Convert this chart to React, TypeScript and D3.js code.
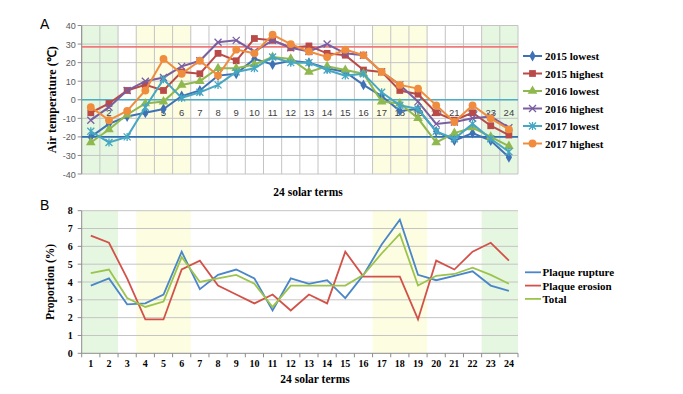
import * as d3 from 'd3';

// 24 solar terms
const TERMS = d3.range(1, 25);

// Panel A: air temperature (℃)
const LOW_2015 = [-20, -13, -9, -7, -5, 2, 5, 13, 14, 22, 19, 21, 20, 17, 15, 8, 2, -6, -5, -17, -22, -18, -22, -31];
const HIGH_2015 = [-7, -2, 5, 8, 5, 15, 14, 25, 21, 33, 32, 28, 29, 25, 24, 16, 15, 5, 3, -7, -11, -7, -14, -19];
const LOW_2016 = [-23, -16, -8, -2, -1, 8, 10, 17, 17, 19, 23, 22, 15, 18, 16, 14, -1, -2, -10, -23, -18, -15, -20, -25];
const HIGH_2016 = [-11, -4, 5, 10, 12, 18, 21, 31, 32, 26, 32, 28, 26, 30, 25, 24, 15, 8, -1, -13, -12, -10, -9, -15];
const LOW_2017 = [-17, -23, -20, -4, 11, 1, 4, 8, 15, 17, 23, 20, 20, 16, 13, 14, 4, -3, -5, -17, -21, -13, -21, -28];
const HIGH_2017 = [-4, -11, -6, 5, 22, 14, 21, 13, 27, 25, 35, 30, 26, 23, 27, 24, 15, 8, 6, -3, -12, -3, -10, -16];
const TEMP_TICKS = [40, 30, 20, 10, 0, -10, -20, -30, -40];
const REF_LINES = [
  { v: 28.5, color: '#f07a7a' },
  { v: 0, color: '#4bacc6' },
  { v: -20, color: '#2f6fb0' },
];

// Panel B: proportion (%)
const RUPTURE = [3.8, 4.2, 2.75, 2.8, 3.3, 5.7, 3.6, 4.4, 4.7, 4.2, 2.4, 4.2, 3.9, 4.1, 3.1, 4.4, 6.1, 7.5, 4.4, 4.1, 4.35, 4.6, 3.8, 3.5];
const EROSION = [6.6, 6.2, 4.2, 1.9, 1.9, 4.7, 5.2, 3.8, 3.3, 2.8, 3.3, 2.4, 3.3, 2.8, 5.7, 4.3, 4.3, 4.3, 1.9, 5.2, 4.7, 5.7, 6.2, 5.2];
const TOTAL = [4.5, 4.7, 3.1, 2.6, 2.9, 5.4, 4.0, 4.2, 4.4, 3.9, 2.6, 3.8, 3.8, 3.8, 3.8, 4.4, 5.6, 6.7, 3.8, 4.35, 4.45, 4.8, 4.4, 3.9];
const PROP_TICKS = d3.range(0, 9);

// seasonal shading: [first term, last term, colour]
const BANDS: [number, number, string][] = [
  [1, 2, '#e5f7e0'],
  [4, 6, '#fdfde2'],
  [17, 19, '#fdfde2'],
  [23, 24, '#e5f7e0'],
];

const seriesA = [
  { name: '2015 lowest', values: LOW_2015, color: '#3f72b5', marker: 'diamond' },
  { name: '2015 highest', values: HIGH_2015, color: '#b94a48', marker: 'square' },
  { name: '2016 lowest', values: LOW_2016, color: '#8fb84e', marker: 'triangle' },
  { name: '2016 highest', values: HIGH_2016, color: '#7a5ea0', marker: 'x' },
  { name: '2017 lowest', values: LOW_2017, color: '#46a7c2', marker: 'star' },
  { name: '2017 highest', values: HIGH_2017, color: '#f08c3e', marker: 'circle' },
];

const seriesB = [
  { name: 'Plaque rupture', values: RUPTURE, color: '#4a86c8' },
  { name: 'Plaque erosion', values: EROSION, color: '#d2524a' },
  { name: 'Total', values: TOTAL, color: '#9cc44c' },
];

const SERIF = '"Liberation Serif", "Times New Roman", serif';
const SANS = '"Liberation Sans", Arial, sans-serif';

const L = 81.7, R = 518;
const x = d3.scaleBand<number>().domain(TERMS).range([L, R]);
const cx = (t: number) => (x(t) ?? 0) + x.bandwidth() / 2;

const yA = d3.scaleLinear().domain([-40, 40]).range([174, 25.5]);
const yB = d3.scaleLinear().domain([0, 8]).range([353.3, 210.7]);

function Marker({ kind, x0, y0, color }: { kind: string; x0: number; y0: number; color: string }) {
  const t = `translate(${x0},${y0})`;
  if (kind === 'x' || kind === 'star') {
    const r = 3.5;
    let d = `M${-r},${-r}L${r},${r}M${-r},${r}L${r},${-r}`;
    if (kind === 'star') d += `M0,${-r - 0.5}L0,${r + 0.5}`;
    return <path d={d} transform={t} stroke={color} strokeWidth={1.3} fill="none" />;
  }
  const type = kind === 'diamond' ? d3.symbolDiamond : kind === 'square' ? d3.symbolSquare : kind === 'triangle' ? d3.symbolTriangle : d3.symbolCircle;
  const size = kind === 'diamond' ? 34 : kind === 'square' ? 46 : kind === 'triangle' ? 40 : 48;
  return <path d={d3.symbol().type(type).size(size)() ?? ''} transform={t} fill={color} />;
}

function Bands({ y0, y1 }: { y0: number; y1: number }) {
  return (
    <g>
      {BANDS.map(([a, b, c]) => (
        <rect key={a} x={x(a)} y={y0} width={(x(b) ?? 0) + x.bandwidth() - (x(a) ?? 0)} height={y1 - y0} fill={c} />
      ))}
    </g>
  );
}

export default function App() {
  const lineA = (vals: number[]) => d3.line<number>().x((_, i) => cx(TERMS[i])).y((v) => yA(v))(vals) ?? '';
  const lineB = (vals: number[]) => d3.line<number>().x((_, i) => cx(TERMS[i])).y((v) => yB(v))(vals) ?? '';
  const boundaries = [...TERMS.map((t) => x(t) ?? 0), R];

  return (
    <svg width={683} height={394} style={{ position: 'absolute', left: 0, top: 0, background: '#fff' }}>
      {/* ---------- Panel A ---------- */}
      <text x={40} y={29} fontFamily={SANS} fontSize={14}>A</text>
      <Bands y0={yA(40)} y1={yA(-40)} />
      {TEMP_TICKS.map((v) => (
        <g key={v}>
          <line x1={L} x2={R} y1={yA(v)} y2={yA(v)} stroke="#c4c4c4" strokeWidth={1} />
          <line x1={L - 4} x2={L} y1={yA(v)} y2={yA(v)} stroke="#8c8c8c" />
          <text x={L - 6} y={yA(v) + 3.5} textAnchor="end" fontFamily={SANS} fontSize={9} fill="#595959">{v}</text>
        </g>
      ))}
      {boundaries.map((bx, i) => (
        <line key={i} x1={bx} x2={bx} y1={yA(40)} y2={yA(-40)} stroke="#c4c4c4" strokeWidth={1} />
      ))}
      <line x1={L} x2={L} y1={yA(40)} y2={yA(-40)} stroke="#8c8c8c" />
      {REF_LINES.map((r) => (
        <line key={r.v} x1={L} x2={R} y1={yA(r.v)} y2={yA(r.v)} stroke={r.color} strokeWidth={1.6} />
      ))}
      {TERMS.map((t) => (
        <text key={t} x={cx(t)} y={yA(0) + 16} textAnchor="middle" fontFamily={SANS} fontSize={9.5} fill="#404040">{t}</text>
      ))}
      {seriesA.map((s) => (
        <g key={s.name}>
          <path d={lineA(s.values)} fill="none" stroke={s.color} strokeWidth={2} />
          {s.values.map((v, i) => (
            <Marker key={i} kind={s.marker} x0={cx(TERMS[i])} y0={yA(v)} color={s.color} />
          ))}
        </g>
      ))}
      <text transform={`translate(56,${(yA(40) + yA(-40)) / 2}) rotate(-90)`} textAnchor="middle" fontFamily={SERIF} fontWeight="bold" fontSize={12}>Air temperature (℃)</text>
      <text x={308} y={196} textAnchor="middle" fontFamily={SERIF} fontWeight="bold" fontSize={11.5}>24 solar  terms</text>
      {seriesA.map((s, i) => {
        const ly = 56 + i * 17.5;
        return (
          <g key={s.name}>
            <line x1={523} x2={542} y1={ly} y2={ly} stroke={s.color} strokeWidth={2} />
            <Marker kind={s.marker} x0={532.5} y0={ly} color={s.color} />
            <text x={545} y={ly + 4} fontFamily={SERIF} fontWeight="bold" fontSize={11}>{s.name}</text>
          </g>
        );
      })}

      {/* ---------- Panel B ---------- */}
      <text x={40} y={210} fontFamily={SANS} fontSize={14}>B</text>
      <Bands y0={yB(8)} y1={yB(0)} />
      {PROP_TICKS.map((v) => (
        <g key={v}>
          {v > 0 && <line x1={L} x2={R} y1={yB(v)} y2={yB(v)} stroke="#c4c4c4" strokeWidth={1} />}
          <line x1={L - 4} x2={L} y1={yB(v)} y2={yB(v)} stroke="#8c8c8c" />
          <text x={L - 9} y={yB(v) + 3.5} textAnchor="end" fontFamily={SERIF} fontWeight="bold" fontSize={10}>{v}</text>
        </g>
      ))}
      <line x1={L} x2={L} y1={yB(8)} y2={yB(0)} stroke="#8c8c8c" />
      <line x1={L} x2={R} y1={yB(0)} y2={yB(0)} stroke="#8c8c8c" />
      {boundaries.map((bx, i) => (
        <line key={i} x1={bx} x2={bx} y1={yB(0)} y2={yB(0) + 4} stroke="#8c8c8c" />
      ))}
      {TERMS.map((t) => (
        <text key={t} x={cx(t)} y={yB(0) + 14} textAnchor="middle" fontFamily={SERIF} fontWeight="bold" fontSize={10}>{t}</text>
      ))}
      {seriesB.map((s) => (
        <path key={s.name} d={lineB(s.values)} fill="none" stroke={s.color} strokeWidth={1.8} />
      ))}
      <text transform={`translate(54,${(yB(8) + yB(0)) / 2}) rotate(-90)`} textAnchor="middle" fontFamily={SERIF} fontWeight="bold" fontSize={11.5}>Proportion  (%)</text>
      <text x={315} y={383} textAnchor="middle" fontFamily={SERIF} fontWeight="bold" fontSize={11.5}>24 solar  terms</text>
      {seriesB.map((s, i) => {
        const ly = 272.3 + i * 13.3;
        return (
          <g key={s.name}>
            <line x1={525} x2={541} y1={ly} y2={ly} stroke={s.color} strokeWidth={1.8} />
            <text x={542.5} y={ly + 4} fontFamily={SERIF} fontWeight="bold" fontSize={11}>{s.name}</text>
          </g>
        );
      })}
    </svg>
  );
}
